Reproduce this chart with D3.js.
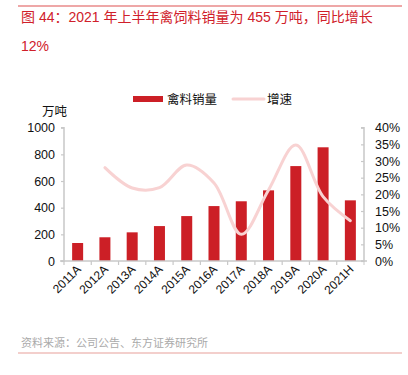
<!DOCTYPE html>
<html>
<head>
<meta charset="utf-8">
<script src="https://cdn.jsdelivr.net/npm/d3@7"></script>
<style>
    body { margin: 0; background: #fff; }
    svg text { font-family: "Liberation Sans", Arial, "Noto Sans CJK SC", sans-serif; }
</style>
</head>
<body>
<div id="chart"></div>
<script>
// chart data
const years = ["2011A", "2012A", "2013A", "2014A", "2015A", "2016A", "2017A", "2018A", "2019A", "2020A", "2021H"];
const sales = [135, 178, 215, 262, 337, 412, 448, 530, 712, 853, 455];
const growth = [null, 28.0, 21.9, 22.0, 28.8, 23.4, 8.0, 21.3, 34.8, 19.3, 12.1];
const leftTicks = [0, 200, 400, 600, 800, 1000];
const rightTicks = [0, 5, 10, 15, 20, 25, 30, 35, 40];

const W = 408, H = 375;
const cjk = "'Noto Sans CJK SC', sans-serif";
const red = "#d0202a";

let svg = d3.select("#chart").append("svg")
    .attr("width", W)
    .attr("height", H);

// frame lines
svg.append("line").attr("x1", 18).attr("x2", 402).attr("y1", 6).attr("y2", 6)
    .attr("stroke", "#e88a8a").attr("stroke-width", 1.5);
svg.append("line").attr("x1", 18).attr("x2", 402).attr("y1", 353).attr("y2", 353)
    .attr("stroke", "#e8a09a").attr("stroke-width", 1.2);

// title
svg.append("text").attr("x", 21).attr("y", 22)
    .attr("font-family", cjk).attr("font-size", 14).attr("fill", red)
    .text("图 44：2021 年上半年禽饲料销量为 455 万吨，同比增长");
svg.append("text").attr("x", 21).attr("y", 51)
    .attr("font-family", cjk).attr("font-size", 14).attr("fill", red)
    .text("12%");

// scales
let band = d3.scaleBand().domain(years).range([64, 364]);
let y = d3.scaleLinear().domain([0, 1000]).range([261, 127.7]);
let y2 = d3.scaleLinear().domain([0, 40]).range([261, 127.7]);

// bars
svg.selectAll(".bar")
    .data(years)
    .enter().append("rect")
    .attr("class", "bar")
    .attr("x", (d, i) => band(d) + band.bandwidth() / 2 - 5.5)
    .attr("width", 11)
    .attr("y", (d, i) => y(sales[i]))
    .attr("height", (d, i) => y(0) - y(sales[i]))
    .attr("fill", "#cc1f26");

// growth line
let pts = years.map((d, i) => [band(d) + band.bandwidth() / 2, growth[i]]).filter(p => p[1] !== null);
let line = d3.line()
    .x(d => d[0])
    .y(d => y2(d[1]))
    .curve(d3.curveCatmullRom.alpha(0.5));
svg.append("path")
    .datum(pts)
    .attr("d", line)
    .attr("fill", "none")
    .attr("stroke", "#f8d2d2")
    .attr("stroke-width", 3)
    .attr("stroke-linecap", "round");

// axes
const axisColor = "#c8c8c8";
let yAxisL = d3.axisLeft(y).tickValues(leftTicks).tickSize(3).tickPadding(6).tickFormat(d3.format("d"));
let gl = svg.append("g").attr("transform", "translate(64,0)").call(yAxisL);

let yAxisR = d3.axisRight(y2).tickValues(rightTicks).tickSize(-3).tickPadding(11)
    .tickFormat(d => d + "%");
let gr = svg.append("g").attr("transform", "translate(364,0)").call(yAxisR);

let xAxis = d3.axisBottom(band).tickSize(4).tickFormat("");
let gx = svg.append("g").attr("transform", "translate(0,261)").call(xAxis);
gx.selectAll(".tick line").attr("transform", "translate(" + (-band.bandwidth() / 2) + ",0)");
gx.append("line").attr("x1", 364).attr("x2", 364).attr("y1", 0).attr("y2", 4).attr("stroke", axisColor);

[gl, gr, gx].forEach(g => {
    g.select(".domain").attr("stroke", axisColor).attr("stroke-width", 1.5);
    g.selectAll(".tick line").attr("stroke", axisColor).attr("stroke-width", 1.2);
    g.selectAll("text").attr("font-size", 12.5).attr("fill", "#111")
        .attr("font-family", "'Liberation Sans', Arial, sans-serif");
});
gl.select(".domain").attr("d", "M-3,127.7H0V261H-3");
gr.select(".domain").attr("d", "M-3,127.7H0V261H-3");
gx.select(".domain").attr("d", "M60,0H367");

// x labels rotated
svg.selectAll(".xlab")
    .data(years)
    .enter().append("text")
    .attr("class", "xlab")
    .attr("transform", d => "translate(" + (band(d) + band.bandwidth() / 2 + 4) + ",270) rotate(-45)")
    .attr("text-anchor", "end")
    .attr("font-size", 12)
    .attr("fill", "#111")
    .text(d => d);

// unit label
svg.append("text").attr("x", 42).attr("y", 116)
    .attr("font-family", cjk).attr("font-size", 12.5).attr("fill", "#111")
    .text("万吨");

// legend
svg.append("rect").attr("x", 133).attr("y", 96).attr("width", 30).attr("height", 6).attr("fill", "#cc1f26");
svg.append("text").attr("x", 167).attr("y", 104)
    .attr("font-family", cjk).attr("font-size", 12.5).attr("fill", "#111")
    .text("禽料销量");
svg.append("line").attr("x1", 233).attr("x2", 264).attr("y1", 99).attr("y2", 99)
    .attr("stroke", "#f8d2d2").attr("stroke-width", 3).attr("stroke-linecap", "round");
svg.append("text").attr("x", 267).attr("y", 104)
    .attr("font-family", cjk).attr("font-size", 12.5).attr("fill", "#111")
    .text("增速");

// source
svg.append("text").attr("x", 21).attr("y", 347)
    .attr("font-family", cjk).attr("font-size", 11).attr("fill", "#aaaaaa")
    .text("资料来源：公司公告、东方证券研究所");
</script>
</body>
</html>
